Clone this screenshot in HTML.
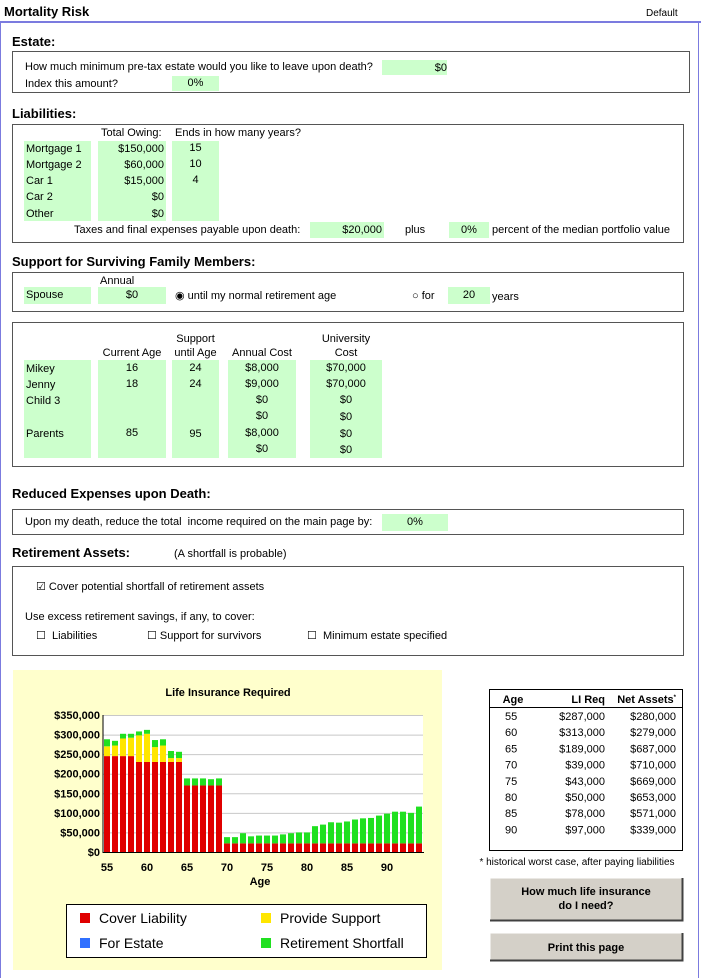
<!DOCTYPE html><html><head><style>
body{margin:0;width:701px;height:978px;position:relative;background:#fff;font-family:"Liberation Sans",Arial,sans-serif;font-size:11px;color:#000;overflow:hidden}
div,span{position:absolute}
.h{font-weight:bold;font-size:13px}
.box{border:1px solid #555;box-sizing:border-box}
.g{background:#ccffcc}
.t{line-height:14px;white-space:nowrap}
.r{text-align:right}
.c{text-align:center}
</style></head><body>
<div class="t" style="left:4px;top:5px;font-weight:bold;font-size:13px">Mortality Risk</div>
<div class="t" style="left:646px;top:7px;font-size:10px">Default</div>
<div style="left:0;top:21px;width:701px;height:2px;background:#7b7bdf"></div>
<div style="left:0;top:22px;width:1px;height:956px;background:#7b7bdf"></div>
<div style="left:698px;top:22px;width:1px;height:956px;background:#7b7bdf"></div>

<div class="t h" style="left:12px;top:35px">Estate:</div>
<div class="box" style="left:12px;top:51px;width:678px;height:42px"></div>
<div class="t" style="left:25px;top:60px">How much minimum pre-tax estate would you like to leave upon death?</div>
<div class="g t r" style="left:382px;top:60px;width:65px;height:15px;padding-right:0"><span style="right:0;top:1px">$0</span></div>
<div class="t" style="left:25px;top:77px">Index this amount?</div>
<div class="g t c" style="left:172px;top:76px;width:47px;height:15px;line-height:15px">0%</div>

<div class="t h" style="left:12px;top:107px">Liabilities:</div>
<div class="box" style="left:12px;top:124px;width:672px;height:119px"></div>
<div class="t" style="left:101px;top:126px">Total Owing:</div>
<div class="t" style="left:175px;top:126px">Ends in how many years?</div>
<div class="g" style="left:24px;top:141px;width:67px;height:80px"></div>
<div class="g" style="left:98px;top:141px;width:68px;height:80px"></div>
<div class="g" style="left:172px;top:141px;width:47px;height:80px"></div>
<div class="t" style="left:26px;top:142px">Mortgage 1</div><div class="t r" style="left:98px;top:142px;width:66px">$150,000</div><div class="t c" style="left:172px;top:141px;width:47px">15</div>
<div class="t" style="left:26px;top:158px">Mortgage 2</div><div class="t r" style="left:98px;top:158px;width:66px">$60,000</div><div class="t c" style="left:172px;top:157px;width:47px">10</div>
<div class="t" style="left:26px;top:174px">Car 1</div><div class="t r" style="left:98px;top:174px;width:66px">$15,000</div><div class="t c" style="left:172px;top:173px;width:47px">4</div>
<div class="t" style="left:26px;top:190px">Car 2</div><div class="t r" style="left:98px;top:190px;width:66px">$0</div>
<div class="t" style="left:26px;top:207px">Other</div><div class="t r" style="left:98px;top:207px;width:66px">$0</div>
<div class="t" style="left:74px;top:223px">Taxes and final expenses payable upon death:</div>
<div class="g t r" style="left:310px;top:222px;width:72px;height:16px;line-height:16px;padding-right:2px">$20,000</div>
<div class="t" style="left:405px;top:223px">plus</div>
<div class="g t c" style="left:449px;top:222px;width:40px;height:16px;line-height:16px">0%</div>
<div class="t" style="left:492px;top:223px">percent of the median portfolio value</div>

<div class="t h" style="left:12px;top:255px">Support for Surviving Family Members:</div>
<div class="box" style="left:12px;top:272px;width:672px;height:40px"></div>
<div class="t" style="left:100px;top:274px">Annual</div>
<div class="g t" style="left:24px;top:287px;width:67px;height:17px;line-height:17px"><span style="left:2px">Spouse</span></div>
<div class="g t c" style="left:98px;top:287px;width:68px;height:17px;line-height:17px">$0</div>
<div class="t" style="left:175px;top:289px">◉ until my normal retirement age</div>
<div class="t" style="left:412px;top:289px">○ for</div>
<div class="g t c" style="left:448px;top:287px;width:42px;height:17px;line-height:17px">20</div>
<div class="t" style="left:492px;top:290px">years</div>

<div class="box" style="left:12px;top:322px;width:672px;height:145px"></div>
<div class="t c" style="left:172px;top:332px;width:47px">Support</div>
<div class="t c" style="left:306px;top:332px;width:80px">University</div>
<div class="t c" style="left:98px;top:346px;width:68px">Current Age</div>
<div class="t c" style="left:168px;top:346px;width:55px">until Age</div>
<div class="t c" style="left:228px;top:346px;width:68px">Annual Cost</div>
<div class="t c" style="left:306px;top:346px;width:80px">Cost</div>
<div class="g" style="left:24px;top:360px;width:67px;height:98px"></div>
<div class="g" style="left:98px;top:360px;width:68px;height:98px"></div>
<div class="g" style="left:172px;top:360px;width:47px;height:98px"></div>
<div class="g" style="left:228px;top:360px;width:68px;height:98px"></div>
<div class="g" style="left:310px;top:360px;width:72px;height:98px"></div>
<div class="t" style="left:26px;top:362px">Mikey</div><div class="t c" style="left:98px;top:361px;width:68px">16</div><div class="t c" style="left:172px;top:361px;width:47px">24</div><div class="t c" style="left:228px;top:361px;width:68px">$8,000</div><div class="t c" style="left:310px;top:361px;width:72px">$70,000</div>
<div class="t" style="left:26px;top:378px">Jenny</div><div class="t c" style="left:98px;top:377px;width:68px">18</div><div class="t c" style="left:172px;top:377px;width:47px">24</div><div class="t c" style="left:228px;top:377px;width:68px">$9,000</div><div class="t c" style="left:310px;top:377px;width:72px">$70,000</div>
<div class="t" style="left:26px;top:394px">Child 3</div><div class="t c" style="left:228px;top:393px;width:68px">$0</div><div class="t c" style="left:310px;top:393px;width:72px">$0</div>
<div class="t c" style="left:228px;top:409px;width:68px">$0</div><div class="t c" style="left:310px;top:410px;width:72px">$0</div>
<div class="t" style="left:26px;top:427px">Parents</div><div class="t c" style="left:98px;top:426px;width:68px">85</div><div class="t c" style="left:172px;top:427px;width:47px">95</div><div class="t c" style="left:228px;top:426px;width:68px">$8,000</div><div class="t c" style="left:310px;top:427px;width:72px">$0</div>
<div class="t c" style="left:228px;top:442px;width:68px">$0</div><div class="t c" style="left:310px;top:443px;width:72px">$0</div>

<div class="t h" style="left:12px;top:487px">Reduced Expenses upon Death:</div>
<div class="box" style="left:12px;top:509px;width:672px;height:26px"></div>
<div class="t" style="left:25px;top:515px">Upon my death, reduce the total&nbsp; income required on the main page by:</div>
<div class="g t c" style="left:382px;top:514px;width:66px;height:17px;line-height:17px">0%</div>

<div class="t h" style="left:12px;top:546px">Retirement Assets:</div>
<div class="t" style="left:174px;top:547px">(A shortfall is probable)</div>
<div class="box" style="left:12px;top:566px;width:672px;height:90px"></div>
<div class="t" style="left:36px;top:580px">☑ Cover potential shortfall of retirement assets</div>
<div class="t" style="left:25px;top:610px">Use excess retirement savings, if any, to cover:</div>
<div class="t" style="left:36px;top:629px">☐&nbsp; Liabilities</div>
<div class="t" style="left:147px;top:629px">☐ Support for survivors</div>
<div class="t" style="left:307px;top:629px">☐&nbsp; Minimum estate specified</div>

<svg style="position:absolute;left:0;top:0" width="701" height="978">
<rect x="13" y="670" width="429" height="300" fill="#ffffcc"/>
<text x="228" y="696" font-family="Liberation Sans" font-weight="bold" font-size="11" text-anchor="middle">Life Insurance Required</text>
<rect x="103" y="715" width="320" height="137" fill="#fff"/>
<g stroke="#c8c8c8" stroke-width="1" id="grid"></g>
<g id="bars"></g>
<line x1="103" y1="715" x2="103" y2="853" stroke="#000"/>
<line x1="103" y1="852.5" x2="424" y2="852.5" stroke="#000"/>
<g id="yl" font-family="Liberation Sans" font-weight="bold" font-size="11" text-anchor="end"></g>
<g id="xl" font-family="Liberation Sans" font-weight="bold" font-size="11" text-anchor="middle"></g>
<text x="260" y="885" font-family="Liberation Sans" font-weight="bold" font-size="11" text-anchor="middle">Age</text>
<rect x="66.5" y="904.5" width="360" height="53" fill="#fff" stroke="#000"/>
<rect x="80" y="913" width="10" height="10" fill="#e00000"/>
<rect x="261" y="913" width="10" height="10" fill="#ffe600"/>
<rect x="80" y="938" width="10" height="10" fill="#3070ff"/>
<rect x="261" y="938" width="10" height="10" fill="#20e020"/>
<g font-family="Liberation Sans" font-size="14">
<text x="99" y="923">Cover Liability</text><text x="280" y="923">Provide Support</text>
<text x="99" y="948">For Estate</text><text x="280" y="948">Retirement Shortfall</text></g>
<rect x="489.5" y="689.5" width="193" height="161" fill="none" stroke="#000"/>
<line x1="490" y1="707.5" x2="682" y2="707.5" stroke="#000"/>
<g font-family="Liberation Sans" font-size="11">
<text x="513" y="703" font-weight="bold" text-anchor="middle">Age</text>
<text x="605" y="703" font-weight="bold" text-anchor="end">LI Req</text>
<text x="676" y="703" font-weight="bold" text-anchor="end">Net Assets<tspan font-size="6" dy="-4">*</tspan></text>
<g id="tbl"></g>
<text x="577" y="865" font-size="10" text-anchor="middle">* historical worst case, after paying liabilities</text>
</g>
<rect x="490" y="878" width="192" height="42" fill="#d4d0c8"/>
<path d="M490 920V878H682" stroke="#fff" fill="none"/><path d="M490 920.5H682.5V878" stroke="#404040" fill="none" stroke-width="2"/>
<rect x="490" y="933" width="192" height="27" fill="#d4d0c8"/>
<path d="M490 960V933H682" stroke="#fff" fill="none"/><path d="M490 960.5H682.5V933" stroke="#404040" fill="none" stroke-width="2"/>
<g font-family="Liberation Sans" font-size="11" font-weight="bold" text-anchor="middle">
<text x="586" y="895">How much life insurance</text><text x="586" y="909">do I need?</text>
<text x="586" y="951">Print this page</text></g>
</svg>
<script>
var N="http://www.w3.org/2000/svg";function el(p,t,a,tx){var e=document.createElementNS(N,t);for(var k in a)e.setAttribute(k,a[k]);if(tx)e.textContent=tx;document.getElementById(p).appendChild(e);}
function Y(v){return 852-v*137/350;}
for(var v=50;v<=350;v+=50)el("grid","line",{x1:103,x2:423,y1:Y(v)+.5,y2:Y(v)+.5});
for(var v=0;v<=350;v+=50)el("yl","text",{x:100,y:Y(v)+4},"$"+(v?v+",000":"0"));
for(var a=55;a<=90;a+=5)el("xl","text",{x:107+(a-55)*8,y:871},a);
var d=[[245,270,288],[245,272,284],[245,290,302],[245,292,302],[230,298,308],[230,302,312],[230,268,286],[230,272,288],[230,240,258],[230,240,256],
[170,170,188],[170,170,188],[170,170,188],[170,170,186],[170,170,188]];
var tt=[38,38,48,40,42,42,42,45,48,50,50,66,70,76,75,78,83,86,87,93,98,103,103,100,116];
tt.forEach(function(t){d.push([22,22,t]);});
d.forEach(function(b,i){var x=104+i*8;
el("bars","rect",{x:x,y:Y(b[0]),width:6,height:852-Y(b[0]),fill:"#e00000"});
if(b[1]>b[0])el("bars","rect",{x:x,y:Y(b[1]),width:6,height:Y(b[0])-Y(b[1]),fill:"#ffe600"});
el("bars","rect",{x:x,y:Y(b[2]),width:6,height:Y(b[1])-Y(b[2]),fill:"#20e020"});});
var T=[[55,"$287,000","$280,000"],[60,"$313,000","$279,000"],[65,"$189,000","$687,000"],[70,"$39,000","$710,000"],[75,"$43,000","$669,000"],[80,"$50,000","$653,000"],[85,"$78,000","$571,000"],[90,"$97,000","$339,000"]];
T.forEach(function(r,i){var y=720+i*16.2;el("tbl","text",{x:505,y:y},r[0]);el("tbl","text",{x:605,y:y,"text-anchor":"end"},r[1]);el("tbl","text",{x:676,y:y,"text-anchor":"end"},r[2]);});
</script>
</body></html>
